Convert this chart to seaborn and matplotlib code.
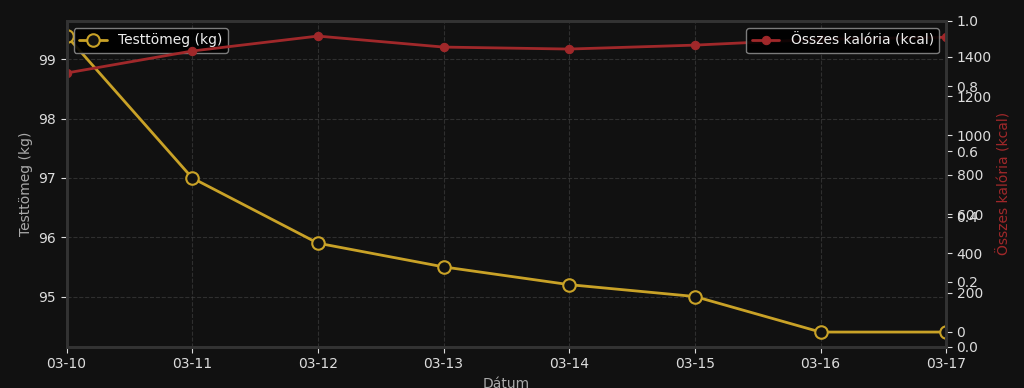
import pandas as pd
import matplotlib
matplotlib.use("Agg")
import matplotlib.pyplot as plt
import matplotlib.dates as mdates
import seaborn as sns

# data
dates = ["2024-03-10", "2024-03-11", "2024-03-12", "2024-03-13",
         "2024-03-14", "2024-03-15", "2024-03-16", "2024-03-17"]
weight_kg = [99.4, 97.0, 95.9, 95.5, 95.2, 95.0, 94.4, 94.4]
calories_kcal = [1318, 1430, 1506, 1450, 1440, 1460, 1490, 1500]

BG = "#111111"
YELLOW = "#c9a227"
RED = "#a0282a"

sns.set_style("dark", rc={
    "figure.facecolor": BG,
    "axes.facecolor": BG,
    "axes.edgecolor": "#333333",
    "axes.labelcolor": "#aaaaaa",
    "xtick.color": "#dddddd",
    "ytick.color": "#dddddd",
    "text.color": "#dddddd",
    "grid.color": "#444444",
})
plt.rcParams['font.family'] = ['DejaVu Sans']

df = pd.DataFrame({"date": pd.to_datetime(dates),
                   "weight": weight_kg,
                   "calories": calories_kcal})

fig, ax1 = plt.subplots(figsize=(10.24, 3.88), dpi=100)
fig.subplots_adjust(left=0.065, right=0.924, top=0.946, bottom=0.106)

sns.lineplot(data=df, x="date", y="weight", ax=ax1, color=YELLOW, linewidth=2,
             marker="o", markersize=9, markerfacecolor=BG, markeredgecolor=YELLOW,
             markeredgewidth=1.5, label="Testtömeg (kg)")
ax1.set_xlabel("Dátum", fontsize=10, color="#aaaaaa", labelpad=4)
ax1.set_ylabel("Testtömeg (kg)", fontsize=10, color="#aaaaaa")
ax1.set_xlim(df["date"].iloc[0], df["date"].iloc[-1])
ax1.xaxis.set_major_locator(mdates.DayLocator())
ax1.xaxis.set_major_formatter(mdates.DateFormatter('%m-%d'))
ax1.grid(True, linestyle="--", linewidth=0.8, alpha=0.6)
ax1.tick_params(axis="both", which="major", length=4, labelsize=10, colors="#dddddd",
                left=True, bottom=True)
leg1 = ax1.legend(loc="upper left", facecolor="black", edgecolor="#888888",
                  fontsize=10, framealpha=0.9)
for t in leg1.get_texts():
    t.set_color("#eeeeee")

# empty twin axis left over (0..1 ticks)
ax3 = ax1.twinx()
ax3.tick_params(axis="y", length=4, labelsize=10, colors="#dddddd", right=True)

ax2 = ax1.twinx()
sns.lineplot(data=df, x="date", y="calories", ax=ax2, color=RED, linewidth=2,
             marker="o", markersize=6, markeredgecolor=RED, label="Összes kalória (kcal)")
ax2.set_ylim(-76, 1583)
ax2.set_ylabel("Összes kalória (kcal)", fontsize=10, color=RED)
ax2.tick_params(axis="y", length=4, labelsize=10, colors="#dddddd", right=True)
leg2 = ax2.legend(loc="upper right", facecolor="black", edgecolor="#888888",
                  fontsize=10, framealpha=0.9)
for t in leg2.get_texts():
    t.set_color("#eeeeee")

for a in (ax1, ax2, ax3):
    for s in a.spines.values():
        s.set_color("#333333")
        s.set_linewidth(2)

fig.savefig("out.png", dpi=100, facecolor=BG)
